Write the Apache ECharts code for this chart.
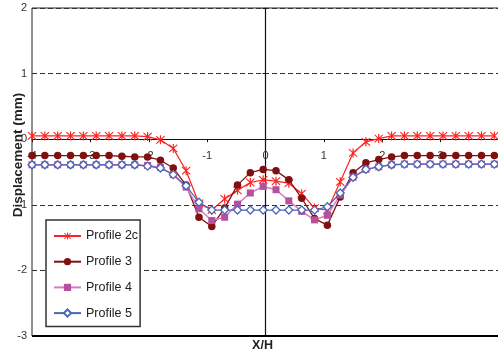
<!DOCTYPE html>
<html><head><meta charset="utf-8">
<script src="https://cdn.jsdelivr.net/npm/echarts@6/dist/echarts.min.js"></script>
<style>html,body{margin:0;padding:0;background:#fff}#c{width:498px;height:356px}</style>
</head><body><div id="c"></div>
<script>
const xs = [-4.00,-3.78,-3.56,-3.34,-3.12,-2.90,-2.68,-2.46,-2.24,-2.02,-1.80,-1.58,-1.36,-1.14,-0.92,-0.70,-0.48,-0.26,-0.04,0.18,0.40,0.62,0.84,1.06,1.28,1.50,1.72,1.94,2.16,2.38,2.60,2.82,3.04,3.26,3.48,3.70,3.92];
const profile2c = [0.05,0.05,0.05,0.05,0.05,0.05,0.05,0.05,0.05,0.04,-0.01,-0.14,-0.48,-0.98,-1.08,-0.91,-0.78,-0.66,-0.62,-0.64,-0.67,-0.83,-1.05,-1.08,-0.65,-0.21,-0.04,0.01,0.05,0.05,0.05,0.05,0.05,0.05,0.05,0.05,0.05];
const profile3 = [-0.25,-0.25,-0.25,-0.25,-0.25,-0.25,-0.25,-0.26,-0.27,-0.27,-0.32,-0.44,-0.70,-1.19,-1.33,-1.05,-0.70,-0.51,-0.46,-0.48,-0.62,-0.90,-1.21,-1.31,-0.88,-0.51,-0.36,-0.31,-0.27,-0.25,-0.25,-0.25,-0.25,-0.25,-0.25,-0.25,-0.25];
const profile4 = [-0.39,-0.39,-0.39,-0.39,-0.39,-0.39,-0.39,-0.39,-0.39,-0.40,-0.43,-0.54,-0.73,-1.06,-1.24,-1.19,-0.99,-0.82,-0.72,-0.77,-0.94,-1.10,-1.23,-1.16,-0.85,-0.58,-0.46,-0.42,-0.39,-0.38,-0.38,-0.38,-0.38,-0.38,-0.38,-0.38,-0.38];
const profile5 = [-0.39,-0.39,-0.39,-0.39,-0.39,-0.39,-0.39,-0.39,-0.39,-0.41,-0.44,-0.54,-0.71,-0.96,-1.08,-1.08,-1.08,-1.08,-1.08,-1.08,-1.08,-1.08,-1.08,-1.03,-0.82,-0.58,-0.46,-0.42,-0.39,-0.38,-0.38,-0.38,-0.38,-0.38,-0.38,-0.38,-0.38];
const seriesNames = ['Profile 2c','Profile 3','Profile 4','Profile 5'];
const xTitle = 'X/H';
const yTitle = 'Displacement (mm)';
const xRange = [-4, 4];
const yRange = [-3, 2];

const pair = a => xs.map((x,i)=>[x,a[i]]);
const FONT = 'Arial, "Liberation Sans", sans-serif';
const star = 'path://M4.4,0L5.6,0L5.6,10L4.4,10Z M0.4,1.2L1.2,0.4L9.6,8.8L8.8,9.6Z M8.8,0.4L9.6,1.2L1.2,9.6L0.4,8.8Z';

const chart = echarts.init(document.getElementById('c'), null, {renderer:'canvas'});
chart.setOption({
  animation:false,
  textStyle:{fontFamily:FONT},
  grid:{left:32, top:8, right:-1, bottom:20, containLabel:false, outerBoundsMode:'none',
        show:true, borderColor:'#222', borderWidth:1, backgroundColor:'transparent'},
  xAxis:{
    type:'value', min:xRange[0], max:xRange[1], interval:1, position:'bottom',
    axisLine:{onZero:false, lineStyle:{color:'#111', width:1.2}},
    axisTick:{show:true, length:3, lineStyle:{color:'#111'}},
    axisLabel:{color:'#333', fontSize:11, margin:11, fontFamily:FONT},
    splitLine:{show:false}
  },
  yAxis:{
    type:'value', min:yRange[0], max:yRange[1], interval:1,
    axisLine:{onZero:true, lineStyle:{color:'#111', width:1.2}},
    axisTick:{show:true, length:3, lineStyle:{color:'#111'}},
    axisLabel:{color:'#333', fontSize:11, margin:5, fontFamily:FONT},
    splitLine:{show:true, lineStyle:{color:'#333', width:1, type:[5,3]}}
  },
  legend:{
    orient:'vertical', left:46, top:220,
    padding:[9.5,2,7,7], itemGap:12.7, itemWidth:27, itemHeight:9,
    borderColor:'#333', borderWidth:1.5, backgroundColor:'#fff',
    textStyle:{fontSize:12.5, color:'#222', fontFamily:FONT},
    data:seriesNames
  },
  series:[{
    name:seriesNames[0], type:'line', data:pair(profile2c),
    symbol:star, symbolSize:9, showAllSymbol:true,
    lineStyle:{color:'#FF2020', width:1.2}, itemStyle:{color:'#FF2020'}
  },{
    name:seriesNames[1], type:'line', data:pair(profile3),
    symbol:'circle', symbolSize:7.5, showAllSymbol:true,
    lineStyle:{color:'#801010', width:1.3}, itemStyle:{color:'#801010'}
  },{
    name:seriesNames[2], type:'line', data:pair(profile4),
    symbol:'rect', symbolSize:7, showAllSymbol:true,
    lineStyle:{color:'#D77CC2', width:1.5}, itemStyle:{color:'#B4509E'}
  },{
    name:seriesNames[3], type:'line', data:pair(profile5),
    symbol:'diamond', symbolSize:8, showAllSymbol:true,
    lineStyle:{color:'#4A66B8', width:1.2}, itemStyle:{color:'#fff', borderColor:'#4A66B8', borderWidth:1.3}
  }]
});
// move the x axis (line, ticks, labels) up to y = 0 using the chart's own scale
const pb = chart.convertToPixel({gridIndex:0}, [xRange[0], yRange[0]]);
const pz = chart.convertToPixel({gridIndex:0}, [0, 0]);
chart.setOption({xAxis:{offset: -(pb[1] - pz[1])}});
const qb = chart.convertToPixel({gridIndex:0}, [xRange[0], yRange[0]]);
const qe = chart.convertToPixel({gridIndex:0}, [xRange[1], yRange[0]]);
const qz = chart.convertToPixel({gridIndex:0}, [0, 0]);
chart.setOption({
  graphic:[{
    type:'text', x:18, y:155, rotation:Math.PI/2,
    style:{text:yTitle, fontWeight:'bold', fontSize:13.5, fontFamily:FONT, fill:'#222', align:'center', verticalAlign:'middle'}
  },{
    type:'text', x:qz[0] - 3, y:346,
    style:{text:xTitle, fontWeight:'bold', fontSize:12.5, fontFamily:FONT, fill:'#222', align:'center', verticalAlign:'middle'}
  },{
    type:'line', z:10, shape:{x1:qb[0], y1:qb[1], x2:qe[0], y2:qe[1]},
    style:{stroke:'#000', lineWidth:2.2}
  }]
});
</script></body></html>
